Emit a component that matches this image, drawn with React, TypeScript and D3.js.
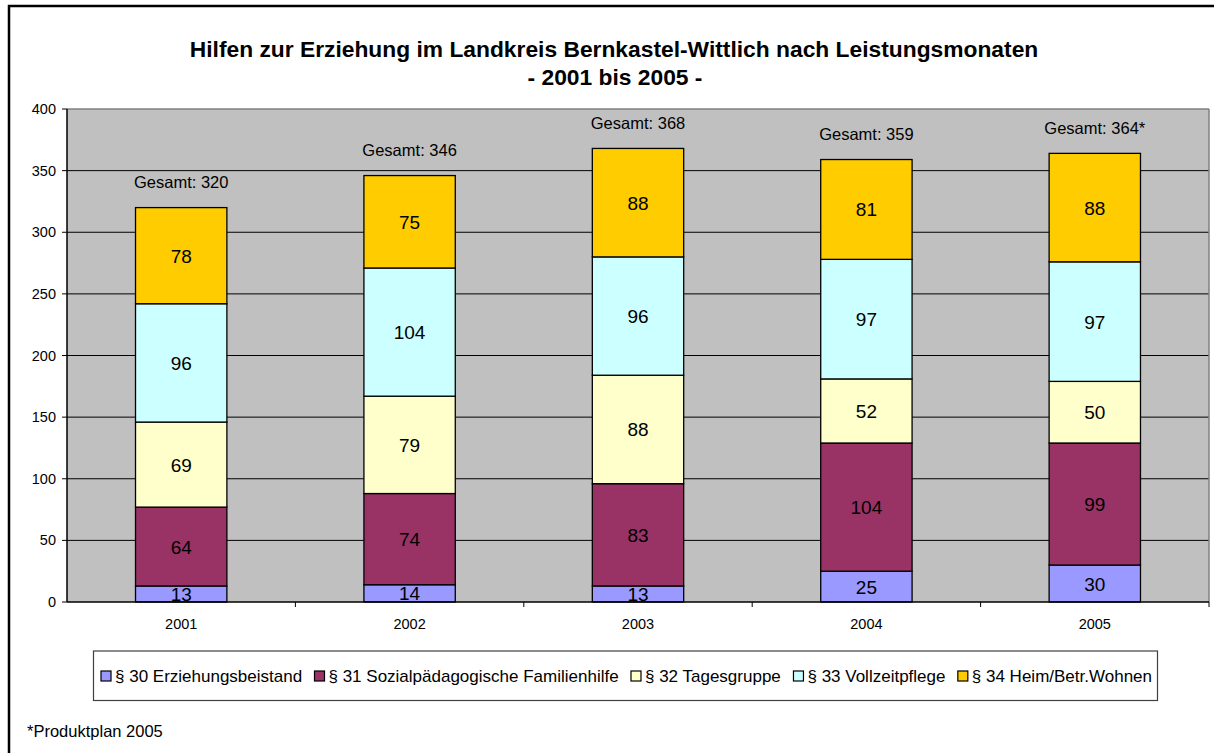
import React from "react";
import * as d3 from "d3";

const years = ["2001", "2002", "2003", "2004", "2005"];
const seriesNames = [
  "§ 30 Erziehungsbeistand",
  "§ 31 Sozialpädagogische Familienhilfe",
  "§ 32 Tagesgruppe",
  "§ 33 Vollzeitpflege",
  "§ 34 Heim/Betr.Wohnen",
];
const s30 = [13, 14, 13, 25, 30];
const s31 = [64, 74, 83, 104, 99];
const s32 = [69, 79, 88, 52, 50];
const s33 = [96, 104, 96, 97, 97];
const s34 = [78, 75, 88, 81, 88];
const totalLabels = ["Gesamt: 320", "Gesamt: 346", "Gesamt: 368", "Gesamt: 359", "Gesamt: 364*"];
const yTicks = [0, 50, 100, 150, 200, 250, 300, 350, 400];
const colors = ["#9999FF", "#993366", "#FFFFCC", "#CCFFFF", "#FFCC00"];

const W = 1214;
const H = 753;
const plot = { left: 67, right: 1209, top: 109, bottom: 602 };
const font = "Arial, 'Liberation Sans', sans-serif";
const legendFont = 17;

function measure(text: string, size: number): number {
  const c = document.createElement("canvas").getContext("2d");
  if (!c) return text.length * size * 0.5;
  c.font = `${size}px 'Liberation Sans', Arial, sans-serif`;
  return c.measureText(text).width;
}

export default function App() {
  const series = [s30, s31, s32, s33, s34];
  const table = years.map((y, i) => {
    const row: any = { year: y };
    seriesNames.forEach((n, k) => (row[n] = series[k][i]));
    return row;
  });
  const stacked = d3.stack().keys(seriesNames)(table);
  const x = d3.scaleBand().domain(years).range([plot.left, plot.right]).paddingInner(0.6).paddingOuter(0.3);
  const xOuter = d3.scaleBand().domain(years).range([plot.left, plot.right]);
  const y = d3.scaleLinear().domain([0, 400]).range([plot.bottom, plot.top]);

  // legend layout: first square at 101, last text ends at 1152
  const widths = seriesNames.map((n) => measure(n, legendFont));
  const itemW = widths.map((w) => 14 + w);
  const total = itemW.reduce((a, b) => a + b, 0);
  const gap = (1152 - 101 - total) / (seriesNames.length - 1);
  const legendX: number[] = [];
  let cx = 101;
  itemW.forEach((w) => {
    legendX.push(cx);
    cx += w + gap;
  });

  return (
    <svg width={W} height={H} style={{ position: "absolute", left: 0, top: 0 }} fontFamily={font}>
      <rect x={0} y={0} width={W} height={H} fill="#fff" />
      <rect x={9} y={6} width={W + 20} height={H + 20} fill="none" stroke="#000" strokeWidth={2.5} />
      <text x={614} y={57} textAnchor="middle" fontSize={22.8} fontWeight="bold">
        Hilfen zur Erziehung im Landkreis Bernkastel-Wittlich nach Leistungsmonaten
      </text>
      <text x={615} y={85} textAnchor="middle" fontSize={22.8} fontWeight="bold">
        - 2001 bis 2005 -
      </text>
      <rect x={plot.left} y={plot.top} width={plot.right - plot.left} height={plot.bottom - plot.top} fill="#C0C0C0" />
      {yTicks.slice(1, -1).map((t) => (
        <line key={t} x1={plot.left} x2={plot.right} y1={y(t)} y2={y(t)} stroke="#000" strokeWidth={1} />
      ))}
      <line x1={plot.left} x2={plot.right} y1={plot.top} y2={plot.top} stroke="#808080" strokeWidth={1.5} />
      <line x1={plot.right} x2={plot.right} y1={plot.top} y2={plot.bottom} stroke="#808080" strokeWidth={1.5} />
      {stacked.map((layer, k) =>
        layer.map((d, i) => (
          <rect
            key={k + "-" + i}
            x={x(years[i])}
            y={y(d[1])}
            width={x.bandwidth()}
            height={y(d[0]) - y(d[1])}
            fill={colors[k]}
            stroke="#000"
            strokeWidth={1.3}
          />
        ))
      )}
      {stacked.map((layer, k) =>
        layer.map((d, i) => (
          <text
            key={"l" + k + "-" + i}
            x={(x(years[i]) as number) + x.bandwidth() / 2}
            y={(y(d[0]) + y(d[1])) / 2 + 7}
            textAnchor="middle"
            fontSize={19}
          >
            {series[k][i]}
          </text>
        ))
      )}
      {stacked[stacked.length - 1].map((d, i) => (
        <text
          key={"t" + i}
          x={(x(years[i]) as number) + x.bandwidth() / 2}
          y={y(d[1]) - 19.5}
          textAnchor="middle"
          fontSize={16.5}
        >
          {totalLabels[i]}
        </text>
      ))}
      <line x1={plot.left} x2={plot.left} y1={plot.top} y2={plot.bottom} stroke="#000" strokeWidth={1.5} />
      <line x1={plot.left} x2={plot.right} y1={plot.bottom} y2={plot.bottom} stroke="#000" strokeWidth={1.5} />
      {yTicks.map((t) => (
        <g key={"yt" + t}>
          <line x1={plot.left - 5} x2={plot.left} y1={y(t)} y2={y(t)} stroke="#000" />
          <text x={plot.left - 11} y={y(t) + 5} textAnchor="end" fontSize={14.5}>
            {t}
          </text>
        </g>
      ))}
      {years.map((yr) => (
        <g key={"xt" + yr}>
          <line
            x1={(xOuter(yr) as number) + xOuter.bandwidth()}
            x2={(xOuter(yr) as number) + xOuter.bandwidth()}
            y1={plot.bottom}
            y2={plot.bottom + 5}
            stroke="#000"
          />
          <text x={(xOuter(yr) as number) + xOuter.bandwidth() / 2} y={629} textAnchor="middle" fontSize={14.5}>
            {yr}
          </text>
        </g>
      ))}
      <rect x={93.5} y={651} width={1064} height={49.5} fill="#fff" stroke="#404040" strokeWidth={1.2} />
      {seriesNames.map((n, k) => (
        <g key={"lg" + k}>
          <rect x={legendX[k]} y={671} width={10} height={10} fill={colors[k]} stroke="#000" strokeWidth={1.2} />
          <text x={legendX[k] + 14} y={682} fontSize={legendFont}>
            {n}
          </text>
        </g>
      ))}
      <text x={27} y={737} fontSize={16.5}>
        *Produktplan 2005
      </text>
    </svg>
  );
}
